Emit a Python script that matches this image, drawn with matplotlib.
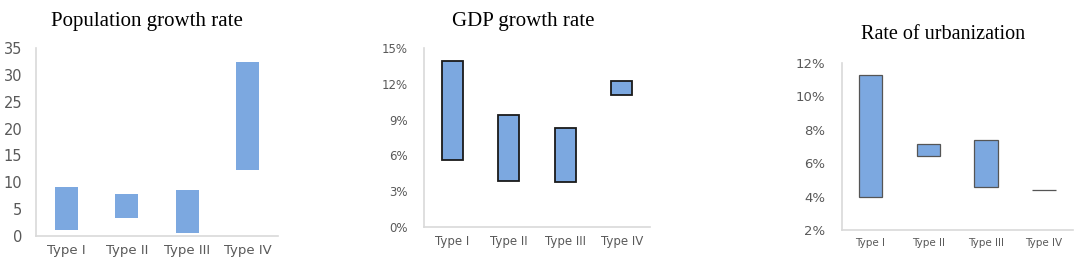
import matplotlib.pyplot as plt
from matplotlib.ticker import FuncFormatter

types = ['Type I', 'Type II', 'Type III', 'Type IV']

# floating bars: low / high values
pop_low = [1.1, 3.3, 0.5, 12.3]
pop_high = [9.2, 7.8, 8.6, 32.4]

gdp_low = [5.6, 3.85, 3.8, 11.1]
gdp_high = [13.95, 9.4, 8.3, 12.25]

urb_low = [3.95, 6.45, 4.6, 4.38]
urb_high = [11.3, 7.15, 7.4, 4.42]

bar_color = '#7ca8e0'
spine_color = '#d9d9d9'
label_color = '#595959'

fig = plt.figure(figsize=(10.79, 2.7), dpi=100)

ax1 = fig.add_axes([0.0334, 0.126, 0.2242, 0.696])
ax2 = fig.add_axes([0.393, 0.159, 0.2094, 0.663])
ax3 = fig.add_axes([0.780, 0.148, 0.2144, 0.619])


def style(ax, fs_y, fs_x, pad):
    for s in ['top', 'right']:
        ax.spines[s].set_visible(False)
    for s in ['left', 'bottom']:
        ax.spines[s].set_color(spine_color)
        ax.spines[s].set_linewidth(1.2)
    ax.tick_params(axis='both', length=0, colors=label_color)
    ax.tick_params(axis='y', labelsize=fs_y, pad=pad)
    ax.tick_params(axis='x', labelsize=fs_x, pad=6)
    ax.set_xlim(-0.5, 3.5)
    ax.set_xticks(range(len(types)))
    ax.set_xticklabels(types)


# population
hs = [h - l for l, h in zip(pop_low, pop_high)]
ax1.bar(range(4), hs, bottom=pop_low, width=0.38, color=bar_color)
ax1.set_ylim(0, 35)
ax1.set_yticks(range(0, 36, 5))
style(ax1, 10.5, 9.5, 10)

# gdp
hs = [h - l for l, h in zip(gdp_low, gdp_high)]
ax2.bar(range(4), hs, bottom=gdp_low, width=0.37, color=bar_color,
        edgecolor='#1a1a1a', linewidth=1.3)
ax2.set_ylim(0, 15)
ax2.set_yticks(range(0, 16, 3))
ax2.yaxis.set_major_formatter(FuncFormatter(lambda v, p: '%d%%' % v))
style(ax2, 8.5, 8.5, 12)

# urbanization
hs = [h - l for l, h in zip(urb_low, urb_high)]
ax3.bar(range(4), hs, bottom=urb_low, width=0.41, color=bar_color,
        edgecolor='#555555', linewidth=0.9)
ax3.set_ylim(2, 12)
ax3.set_yticks(range(2, 13, 2))
ax3.yaxis.set_major_formatter(FuncFormatter(lambda v, p: '%d%%' % v))
style(ax3, 9.5, 7.5, 12)

fig.text(0.136, 0.922, 'Population growth rate', family='Liberation Serif',
         fontsize=15, ha='center', va='center')
fig.text(0.485, 0.922, 'GDP growth rate', family='Liberation Serif',
         fontsize=15, ha='center', va='center')
fig.text(0.874, 0.872, 'Rate of urbanization', family='Liberation Serif',
         fontsize=14.5, ha='center', va='center')

fig.savefig('out.png', dpi=100)
